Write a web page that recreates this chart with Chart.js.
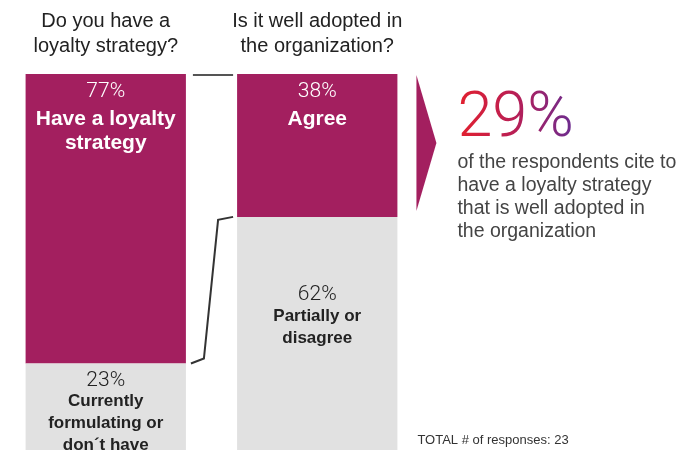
<!DOCTYPE html>
<html>
<head>
<meta charset="utf-8">
<script src="https://cdn.jsdelivr.net/npm/chart.js@4"></script>
<style>
  html, body { margin: 0; padding: 0; background: #fff; }
  #wrap { position: relative; width: 682px; height: 453px; }
</style>
</head>
<body>
<div id="wrap"><canvas id="loyaltyChart" width="682" height="453"></canvas></div>
<script>
// Survey data
var questions = [['Do you have a', 'loyalty strategy?'], ['Is it well adopted in', 'the organization?']];
var positiveShare = [77, 38];
var otherShare = [23, 62];
var positiveLabels = [['Have a loyalty', 'strategy'], ['Agree']];
var otherLabels = [['Currently', 'formulating or', 'don\u00b4t have'], ['Partially or', 'disagree']];
var headlineValue = 29;
var headlineText = ['of the respondents cite to', 'have a loyalty strategy', 'that is well adopted in', 'the organization'];
var totalResponses = 23;

var magenta = '#a31f5f';
var grey = '#e1e1e1';

var labelsPlugin = {
    id: 'surveyLabels',
    afterDatasetsDraw: function (chart) {
        var ctx = chart.ctx;
        var yScale = chart.scales.y;
        var top = chart.getDatasetMeta(1).data;
        var bottom = chart.getDatasetMeta(0).data;
        ctx.save();
        ctx.textAlign = 'center';
        ctx.textBaseline = 'middle';

        // question titles
        ctx.fillStyle = '#222';
        ctx.font = '20px "Liberation Sans", Arial, sans-serif';
        questions.forEach(function (q, i) {
            ctx.fillText(q[0], top[i].x, 21);
            ctx.fillText(q[1], top[i].x, 46);
        });

        // labels in the magenta segments
        top.forEach(function (bar, i) {
            ctx.fillStyle = '#fff';
            ctx.font = '300 21px Roboto, sans-serif';
            ctx.fillText(positiveShare[i] + '%', bar.x, bar.y + 18);
            ctx.font = 'bold 21px "Liberation Sans", Arial, sans-serif';
            positiveLabels[i].forEach(function (t, k) {
                ctx.fillText(t, bar.x, bar.y + 45 + k * 24);
            });
        });

        // labels in the grey segments
        var greyStart = [17, 78];
        bottom.forEach(function (bar, i) {
            var y0 = bar.y + greyStart[i];
            ctx.fillStyle = '#222';
            ctx.font = '300 21px Roboto, sans-serif';
            ctx.fillText(otherShare[i] + '%', bar.x, y0);
            ctx.font = 'bold 17px "Liberation Sans", Arial, sans-serif';
            otherLabels[i].forEach(function (t, k) {
                ctx.fillText(t, bar.x, y0 + 21 + k * 22);
            });
        });

        // connectors between the two bars
        var l = top[0], r = top[1];
        var lRight = l.x + l.width / 2, rLeft = r.x - r.width / 2;
        ctx.strokeStyle = '#555';
        ctx.lineWidth = 2;
        ctx.beginPath();
        ctx.moveTo(lRight + 7, yScale.getPixelForValue(100) + 1);
        ctx.lineTo(rLeft - 4, yScale.getPixelForValue(100) + 1);
        ctx.stroke();
        var yl = yScale.getPixelForValue(otherShare[0]);
        var yr = yScale.getPixelForValue(otherShare[1]);
        ctx.strokeStyle = '#333';
        ctx.beginPath();
        ctx.moveTo(lRight + 5, yl);
        ctx.lineTo(lRight + 18, yl - 5);
        ctx.lineTo(rLeft - 19, yr + 3);
        ctx.lineTo(rLeft - 4, yr);
        ctx.stroke();

        // arrow pointing to the headline
        var ax = rLeft + r.width + 19;
        var ay0 = yScale.getPixelForValue(100) + 1;
        var ay1 = yr - 6;
        ctx.fillStyle = magenta;
        ctx.beginPath();
        ctx.moveTo(ax, ay0);
        ctx.lineTo(ax + 20, (ay0 + ay1) / 2);
        ctx.lineTo(ax, ay1);
        ctx.closePath();
        ctx.fill();

        // headline figure
        var hx = ax + 41;
        ctx.textAlign = 'left';
        ctx.textBaseline = 'alphabetic';
        ctx.font = '300 63px Roboto, sans-serif';
        var w = ctx.measureText(headlineValue + '%').width;
        var grad = ctx.createLinearGradient(hx, 0, hx + w, 0);
        grad.addColorStop(0, '#e3202e');
        grad.addColorStop(0.5, '#b81f56');
        grad.addColorStop(1, '#6a2c91');
        ctx.fillStyle = grad;
        ctx.fillText(headlineValue + '%', hx, 136);

        ctx.fillStyle = '#444';
        ctx.font = '19.5px "Liberation Sans", Arial, sans-serif';
        ctx.textBaseline = 'middle';
        headlineText.forEach(function (t, k) {
            ctx.fillText(t, hx, 163 + k * 23);
        });

        ctx.fillStyle = '#333';
        ctx.font = '13px "Liberation Sans", Arial, sans-serif';
        ctx.fillText('TOTAL # of responses: ' + totalResponses, hx - 40, 440);
        ctx.restore();
    }
};

new Chart(document.getElementById('loyaltyChart').getContext('2d'), {
    type: 'bar',
    data: {
        labels: ['Q1', 'Q2'],
        datasets: [{
            data: otherShare,
            backgroundColor: grey,
            borderWidth: 0
        }, {
            data: positiveShare,
            backgroundColor: magenta,
            borderWidth: 0
        }]
    },
    options: {
        responsive: false,
        animation: false,
        events: [],
        layout: { padding: { left: 0, right: 259, top: 74, bottom: 3 } },
        datasets: { bar: { barPercentage: 1, categoryPercentage: 0.758 } },
        scales: {
            x: { display: false, stacked: true },
            y: { display: false, stacked: true, min: 0, max: 100 }
        },
        plugins: {
            legend: { display: false },
            tooltip: { enabled: false }
        }
    },
    plugins: [labelsPlugin]
});
</script>
</body>
</html>
